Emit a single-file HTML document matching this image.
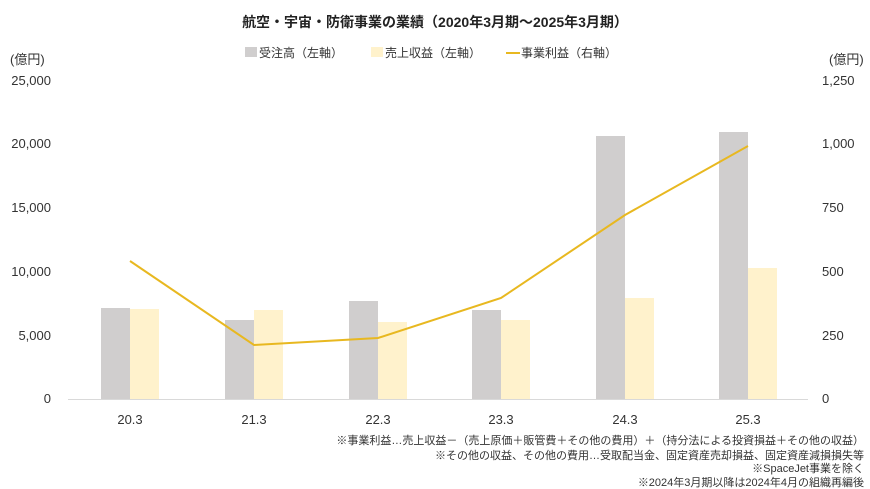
<!DOCTYPE html>
<html><head><meta charset="utf-8"><style>
body{margin:0;background:#fff;}
svg{display:block;font-family:"Liberation Sans","Noto Sans CJK JP",sans-serif;}
</style></head><body>
<svg width="870" height="489" viewBox="0 0 870 489" xmlns="http://www.w3.org/2000/svg">
<text x="435" y="27" text-anchor="middle" font-size="14" font-weight="bold" fill="#222">航空・宇宙・防衛事業の業績（2020年3月期～2025年3月期）</text>
<rect x="245" y="47" width="12" height="10" fill="#d0cece"/>
<text x="259" y="57" font-size="12" fill="#333">受注高（左軸）</text>
<rect x="371" y="47" width="12" height="10" fill="#fff2cc"/>
<text x="385" y="57" font-size="12" fill="#333">売上収益（左軸）</text>
<line x1="506" y1="53" x2="520" y2="53" stroke="#e8b820" stroke-width="2"/>
<text x="521" y="57" font-size="12" fill="#333">事業利益（右軸）</text>
<g font-size="13" fill="#333">
<text x="10" y="64">(億円)</text>
<text x="829" y="64">(億円)</text>
<g text-anchor="end">
<text x="51" y="85">25,000</text><text x="51" y="148">20,000</text><text x="51" y="212">15,000</text><text x="51" y="276">10,000</text><text x="51" y="340">5,000</text><text x="51" y="403">0</text>
</g>
<text x="822" y="85">1,250</text><text x="822" y="148">1,000</text><text x="822" y="212">750</text><text x="822" y="276">500</text><text x="822" y="340">250</text><text x="822" y="403">0</text>
</g>
<line x1="68" y1="399.5" x2="808" y2="399.5" stroke="#d9d9d9" stroke-width="1"/>
<g fill="#d0cece">
<rect x="101" y="308" width="29" height="91"/>
<rect x="225" y="320" width="29" height="79"/>
<rect x="349" y="301" width="29" height="98"/>
<rect x="472" y="310" width="29" height="89"/>
<rect x="596" y="136" width="29" height="263"/>
<rect x="719" y="132" width="29" height="267"/>
</g>
<g fill="#fff2cc">
<rect x="130" y="309" width="29" height="90"/>
<rect x="254" y="310" width="29" height="89"/>
<rect x="378" y="322" width="29" height="77"/>
<rect x="501" y="320" width="29" height="79"/>
<rect x="625" y="298" width="29" height="101"/>
<rect x="748" y="268" width="29" height="131"/>
</g>
<polyline points="130,261 254,345 378,338 501,298 625,215 748,146" fill="none" stroke="#e8b820" stroke-width="2"/>
<g font-size="13" fill="#333" text-anchor="middle">
<text x="130" y="424">20.3</text><text x="254" y="424">21.3</text><text x="378" y="424">22.3</text><text x="501" y="424">23.3</text><text x="625" y="424">24.3</text><text x="748" y="424">25.3</text>
</g>
<g font-size="11" fill="#333" text-anchor="end">
<text x="864" y="444">※事業利益…売上収益－（売上原価＋販管費＋その他の費用）＋（持分法による投資損益＋その他の収益）</text>
<text x="864" y="459">※その他の収益、その他の費用…受取配当金、固定資産売却損益、固定資産減損損失等</text>
<text x="864" y="472">※SpaceJet事業を除く</text>
<text x="864" y="486">※2024年3月期以降は2024年4月の組織再編後</text>
</g>
</svg>
</body></html>
